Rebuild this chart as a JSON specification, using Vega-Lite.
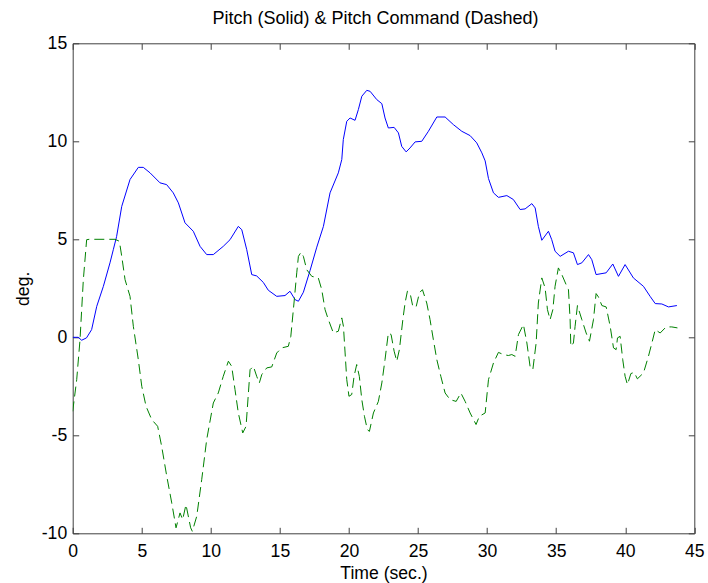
{
  "$schema": "https://vega.github.io/schema/vega-lite/v6.json",
  "width": 621.6,
  "height": 490,
  "autosize": {"type": "none"},
  "padding": {"left": 72.7, "top": 43.3, "right": 13.7, "bottom": 49.7},
  "background": "white",
  "title": {
    "text": "Pitch (Solid) & Pitch Command (Dashed)",
    "font": "Liberation Sans",
    "fontSize": 18,
    "fontWeight": "normal",
    "color": "black",
    "offset": 6,
    "dx": -8
  },
  "datasets": {
    "pitch": [
      {"t": 0, "deg": 0}, {"t": 0.4, "deg": 0}, {"t": 0.65, "deg": -0.15}, {"t": 1.0, "deg": -0.03},
      {"t": 1.37, "deg": 0.39}, {"t": 1.74, "deg": 1.58}, {"t": 2.22, "deg": 2.6}, {"t": 2.7, "deg": 3.8},
      {"t": 2.94, "deg": 4.47}, {"t": 3.18, "deg": 5.15}, {"t": 3.55, "deg": 6.68}, {"t": 4.15, "deg": 8.05},
      {"t": 4.75, "deg": 8.67}, {"t": 5.11, "deg": 8.67}, {"t": 5.6, "deg": 8.39}, {"t": 6.32, "deg": 7.88},
      {"t": 6.8, "deg": 7.79}, {"t": 7.28, "deg": 7.37}, {"t": 7.65, "deg": 6.86}, {"t": 8.13, "deg": 5.84},
      {"t": 8.73, "deg": 5.41}, {"t": 9.22, "deg": 4.64}, {"t": 9.7, "deg": 4.22}, {"t": 10.18, "deg": 4.22},
      {"t": 10.9, "deg": 4.64}, {"t": 11.39, "deg": 4.98}, {"t": 11.99, "deg": 5.66}, {"t": 12.24, "deg": 5.49},
      {"t": 12.6, "deg": 4.47}, {"t": 12.96, "deg": 3.2}, {"t": 13.32, "deg": 3.13}, {"t": 13.8, "deg": 2.8},
      {"t": 14.16, "deg": 2.4}, {"t": 14.77, "deg": 2.09}, {"t": 15.37, "deg": 2.13}, {"t": 15.73, "deg": 2.35},
      {"t": 16.1, "deg": 1.92}, {"t": 16.34, "deg": 1.84}, {"t": 16.7, "deg": 2.3}, {"t": 17.18, "deg": 3.4},
      {"t": 17.67, "deg": 4.6}, {"t": 18.15, "deg": 5.66}, {"t": 18.63, "deg": 7.37}, {"t": 19.23, "deg": 8.39},
      {"t": 19.48, "deg": 9.07}, {"t": 19.59, "deg": 10.09}, {"t": 19.84, "deg": 11.02}, {"t": 20.08, "deg": 11.19},
      {"t": 20.44, "deg": 11.07}, {"t": 20.68, "deg": 11.62}, {"t": 20.93, "deg": 12.3}, {"t": 21.29, "deg": 12.6},
      {"t": 21.53, "deg": 12.55}, {"t": 22.01, "deg": 12.13}, {"t": 22.38, "deg": 11.92}, {"t": 22.61, "deg": 11.19},
      {"t": 22.85, "deg": 10.68}, {"t": 23.27, "deg": 10.71}, {"t": 23.58, "deg": 10.43}, {"t": 23.82, "deg": 9.74},
      {"t": 24.14, "deg": 9.46}, {"t": 24.42, "deg": 9.66}, {"t": 24.79, "deg": 9.97}, {"t": 25.27, "deg": 10.0},
      {"t": 25.75, "deg": 10.51}, {"t": 26.36, "deg": 11.24}, {"t": 26.96, "deg": 11.24}, {"t": 27.56, "deg": 10.85},
      {"t": 28.17, "deg": 10.51}, {"t": 28.77, "deg": 10.29}, {"t": 29.25, "deg": 9.92}, {"t": 29.62, "deg": 9.41},
      {"t": 29.86, "deg": 9.0}, {"t": 30.1, "deg": 8.1}, {"t": 30.46, "deg": 7.37}, {"t": 30.82, "deg": 7.14},
      {"t": 31.43, "deg": 7.23}, {"t": 31.9, "deg": 7.03}, {"t": 32.39, "deg": 6.52}, {"t": 32.75, "deg": 6.55},
      {"t": 33.24, "deg": 6.82}, {"t": 33.48, "deg": 6.6}, {"t": 33.71, "deg": 5.66}, {"t": 33.96, "deg": 4.95},
      {"t": 34.44, "deg": 5.41}, {"t": 34.68, "deg": 4.98}, {"t": 34.92, "deg": 4.39}, {"t": 35.29, "deg": 4.13},
      {"t": 35.89, "deg": 4.39}, {"t": 36.25, "deg": 4.31}, {"t": 36.54, "deg": 3.71}, {"t": 36.86, "deg": 3.8},
      {"t": 37.34, "deg": 4.22}, {"t": 37.58, "deg": 3.96}, {"t": 37.89, "deg": 3.2}, {"t": 38.62, "deg": 3.29},
      {"t": 39.1, "deg": 3.74}, {"t": 39.51, "deg": 3.11}, {"t": 39.99, "deg": 3.71}, {"t": 40.59, "deg": 3.03},
      {"t": 41.32, "deg": 2.6}, {"t": 41.8, "deg": 2.09}, {"t": 42.17, "deg": 1.72}, {"t": 42.65, "deg": 1.7},
      {"t": 43.13, "deg": 1.55}, {"t": 43.74, "deg": 1.62}
    ],
    "command": [
      {"t": 0, "deg": -3.78}, {"t": 0.29, "deg": -2.16}, {"t": 0.53, "deg": -0.12}, {"t": 0.77, "deg": 2.94},
      {"t": 1.01, "deg": 4.98}, {"t": 1.2, "deg": 5.0}, {"t": 3.06, "deg": 5.0}, {"t": 3.38, "deg": 4.9},
      {"t": 3.55, "deg": 4.13}, {"t": 3.79, "deg": 2.94}, {"t": 4.15, "deg": 2.09}, {"t": 4.39, "deg": 0.56},
      {"t": 4.75, "deg": -1.14}, {"t": 5.0, "deg": -2.5}, {"t": 5.31, "deg": -3.52}, {"t": 5.72, "deg": -4.2},
      {"t": 6.15, "deg": -4.54}, {"t": 6.44, "deg": -5.56}, {"t": 6.81, "deg": -7.09}, {"t": 7.17, "deg": -8.45},
      {"t": 7.48, "deg": -9.72}, {"t": 7.77, "deg": -8.96}, {"t": 7.96, "deg": -9.3}, {"t": 8.2, "deg": -8.54},
      {"t": 8.54, "deg": -9.72}, {"t": 8.66, "deg": -9.9}, {"t": 8.98, "deg": -9.13}, {"t": 9.34, "deg": -7.26},
      {"t": 9.7, "deg": -5.22}, {"t": 10.18, "deg": -3.35}, {"t": 10.54, "deg": -2.84}, {"t": 10.9, "deg": -1.99},
      {"t": 11.27, "deg": -1.22}, {"t": 11.51, "deg": -1.48}, {"t": 11.75, "deg": -2.67}, {"t": 11.99, "deg": -3.86},
      {"t": 12.31, "deg": -4.88}, {"t": 12.55, "deg": -4.54}, {"t": 12.84, "deg": -1.65}, {"t": 13.08, "deg": -1.48},
      {"t": 13.32, "deg": -1.99}, {"t": 13.51, "deg": -2.33}, {"t": 13.69, "deg": -1.9}, {"t": 14.05, "deg": -1.56},
      {"t": 14.41, "deg": -1.51}, {"t": 14.77, "deg": -0.8}, {"t": 15.13, "deg": -0.54}, {"t": 15.61, "deg": -0.46},
      {"t": 15.79, "deg": 0.05}, {"t": 16.02, "deg": 1.75}, {"t": 16.22, "deg": 3.29}, {"t": 16.34, "deg": 4.13},
      {"t": 16.53, "deg": 4.34}, {"t": 16.7, "deg": 4.13}, {"t": 16.94, "deg": 3.45}, {"t": 17.31, "deg": 3.11},
      {"t": 17.78, "deg": 3.03}, {"t": 18.03, "deg": 2.43}, {"t": 18.27, "deg": 1.41}, {"t": 18.51, "deg": 0.9},
      {"t": 18.87, "deg": 0.22}, {"t": 19.23, "deg": 0.31}, {"t": 19.48, "deg": 0.99}, {"t": 19.6, "deg": 0.56},
      {"t": 19.72, "deg": -0.8}, {"t": 19.84, "deg": -2.16}, {"t": 20.0, "deg": -3.01}, {"t": 20.2, "deg": -2.92},
      {"t": 20.37, "deg": -1.99}, {"t": 20.56, "deg": -1.39}, {"t": 20.75, "deg": -1.99}, {"t": 20.93, "deg": -3.18},
      {"t": 21.12, "deg": -4.03}, {"t": 21.33, "deg": -4.71}, {"t": 21.48, "deg": -4.8}, {"t": 21.77, "deg": -3.86},
      {"t": 22.13, "deg": -3.27}, {"t": 22.38, "deg": -2.33}, {"t": 22.61, "deg": -1.14}, {"t": 22.85, "deg": 0.22},
      {"t": 23.05, "deg": 0.14}, {"t": 23.27, "deg": -0.71}, {"t": 23.46, "deg": -1.22}, {"t": 23.65, "deg": -0.63},
      {"t": 23.9, "deg": 0.9}, {"t": 24.06, "deg": 1.75}, {"t": 24.23, "deg": 2.35}, {"t": 24.42, "deg": 2.27},
      {"t": 24.62, "deg": 1.58}, {"t": 24.86, "deg": 1.55}, {"t": 25.1, "deg": 2.27}, {"t": 25.32, "deg": 2.43},
      {"t": 25.63, "deg": 1.75}, {"t": 25.87, "deg": 0.9}, {"t": 26.11, "deg": -0.12}, {"t": 26.36, "deg": -1.14},
      {"t": 26.65, "deg": -1.99}, {"t": 26.96, "deg": -2.84}, {"t": 27.32, "deg": -3.18}, {"t": 27.76, "deg": -3.27},
      {"t": 28.1, "deg": -2.84}, {"t": 28.41, "deg": -3.27}, {"t": 28.77, "deg": -3.86}, {"t": 29.2, "deg": -4.45},
      {"t": 29.44, "deg": -4.03}, {"t": 29.86, "deg": -3.86}, {"t": 30.1, "deg": -2.16}, {"t": 30.46, "deg": -1.31},
      {"t": 30.82, "deg": -0.77}, {"t": 31.18, "deg": -0.88}, {"t": 31.54, "deg": -0.93}, {"t": 31.79, "deg": -0.88},
      {"t": 32.03, "deg": -0.97}, {"t": 32.27, "deg": 0.14}, {"t": 32.63, "deg": 0.65}, {"t": 32.88, "deg": -0.29},
      {"t": 33.11, "deg": -1.48}, {"t": 33.31, "deg": -1.65}, {"t": 33.55, "deg": -0.29}, {"t": 33.71, "deg": 1.75},
      {"t": 33.96, "deg": 3.03}, {"t": 34.2, "deg": 2.52}, {"t": 34.37, "deg": 1.41}, {"t": 34.56, "deg": 0.9},
      {"t": 34.76, "deg": 1.41}, {"t": 34.92, "deg": 2.6}, {"t": 35.16, "deg": 3.54}, {"t": 35.41, "deg": 3.2},
      {"t": 35.72, "deg": 2.69}, {"t": 35.89, "deg": 2.43}, {"t": 36.01, "deg": 0.9}, {"t": 36.06, "deg": -0.46},
      {"t": 36.25, "deg": -0.29}, {"t": 36.37, "deg": 0.56}, {"t": 36.54, "deg": 1.62}, {"t": 36.86, "deg": 0.9},
      {"t": 37.17, "deg": 0.22}, {"t": 37.41, "deg": -0.2}, {"t": 37.7, "deg": 0.9}, {"t": 37.89, "deg": 2.23},
      {"t": 38.06, "deg": 2.06}, {"t": 38.31, "deg": 1.62}, {"t": 38.62, "deg": 1.55}, {"t": 38.91, "deg": 0.56},
      {"t": 39.15, "deg": -0.54}, {"t": 39.34, "deg": -0.63}, {"t": 39.44, "deg": -0.03}, {"t": 39.63, "deg": 0.05},
      {"t": 39.82, "deg": -1.14}, {"t": 39.99, "deg": -1.99}, {"t": 40.16, "deg": -2.41}, {"t": 40.41, "deg": -1.85},
      {"t": 40.65, "deg": -1.79}, {"t": 40.88, "deg": -2.12}, {"t": 41.32, "deg": -1.82}, {"t": 41.68, "deg": -0.97},
      {"t": 41.93, "deg": -0.29}, {"t": 42.17, "deg": 0.39}, {"t": 42.53, "deg": 0.22}, {"t": 42.96, "deg": 0.53},
      {"t": 43.37, "deg": 0.53}, {"t": 43.78, "deg": 0.48}
    ]
  },
  "layer": [
    {
      "data": {"name": "pitch"},
      "mark": {"type": "line", "color": "#0000ff", "strokeWidth": 1, "clip": true},
      "encoding": {
        "x": {
          "field": "t", "type": "quantitative",
          "scale": {"domain": [0, 45], "nice": false, "zero": false},
          "axis": {"orient": "bottom", "title": "Time (sec.)", "values": [0, 5, 10, 15, 20, 25, 30, 35, 40, 45], "labelExpr": "'' + datum.value", "labelPadding": 14.7, "titlePadding": 5}
        },
        "y": {
          "field": "deg", "type": "quantitative",
          "scale": {"domain": [-10, 15], "nice": false, "zero": false},
          "axis": {"orient": "left", "title": "deg.", "values": [-10, -5, 0, 5, 10, 15], "labelExpr": "'' + datum.value", "labelPadding": 12, "titlePadding": 9}
        }
      }
    },
    {
      "data": {"name": "command"},
      "mark": {"type": "line", "color": "#008000", "strokeWidth": 1, "strokeDash": [10, 5], "clip": true},
      "encoding": {
        "x": {
          "field": "t", "type": "quantitative",
          "axis": {"orient": "top", "title": null, "labels": false, "values": [0, 5, 10, 15, 20, 25, 30, 35, 40, 45]}
        },
        "y": {
          "field": "deg", "type": "quantitative",
          "axis": {"orient": "right", "title": null, "labels": false, "values": [-10, -5, 0, 5, 10, 15]}
        }
      }
    }
  ],
  "resolve": {"axis": {"x": "independent", "y": "independent"}},
  "config": {
    "view": {"stroke": null},
    "axis": {
      "grid": false,
      "domainColor": "#404040",
      "domainWidth": 1,
      "tickColor": "#404040",
      "tickWidth": 1,
      "tickSize": -6,
      "labelFont": "Liberation Sans",
      "labelFontSize": 17.6,
      "labelColor": "black",
      "labelFlush": false,
      "labelOverlap": false,
      "titleFont": "Liberation Sans",
      "titleFontSize": 17.6,
      "titleFontWeight": "normal",
      "titleColor": "black"
    }
  }
}
